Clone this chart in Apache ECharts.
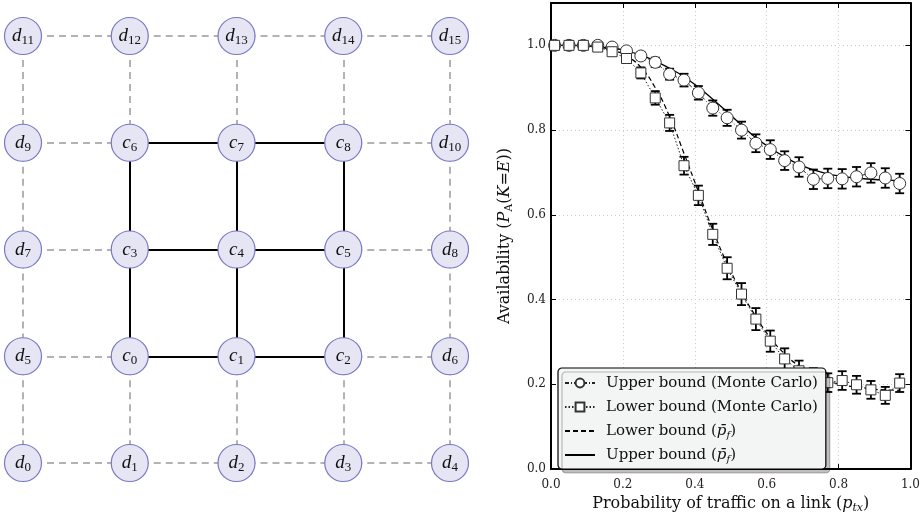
<!DOCTYPE html>
<html>
<head>
<meta charset="utf-8">
<script src="https://cdn.jsdelivr.net/npm/echarts@6/dist/echarts.min.js"></script>
<style>html,body{margin:0;padding:0;background:#fff}#chart{width:923px;height:519px}</style>
</head>
<body>
<div id="chart"></div>
<script>
// grid of nodes, top row first
const nodeRows = [
    ['d11', 'd12', 'd13', 'd14', 'd15'],
    ['d9', 'c6', 'c7', 'c8', 'd10'],
    ['d7', 'c3', 'c4', 'c5', 'd8'],
    ['d5', 'c0', 'c1', 'c2', 'd6'],
    ['d0', 'd1', 'd2', 'd3', 'd4']
];

// availability plot
const ptx = [0.01, 0.05, 0.09, 0.13, 0.17, 0.21, 0.25, 0.29, 0.33, 0.37, 0.41, 0.45, 0.49,
    0.53, 0.57, 0.61, 0.65, 0.69, 0.73, 0.77, 0.81, 0.85, 0.89, 0.93, 0.97];
const upperMC = [1.0, 1.0, 1.0, 1.0, 0.996, 0.987, 0.975, 0.960, 0.932, 0.918, 0.888, 0.852, 0.829,
    0.800, 0.769, 0.754, 0.728, 0.713, 0.684, 0.686, 0.685, 0.690, 0.699, 0.687, 0.674];
const upperErr = [0, 0, 0, 0, 0.003, 0.006, 0.009, 0.011, 0.013, 0.015, 0.016, 0.018, 0.019,
    0.020, 0.021, 0.022, 0.022, 0.023, 0.023, 0.023, 0.023, 0.023, 0.023, 0.023, 0.023];
const lowerMC = [1.0, 1.0, 1.0, 0.996, 0.985, 0.969, 0.935, 0.876, 0.817, 0.716, 0.646, 0.554, 0.474,
    0.413, 0.354, 0.302, 0.260, 0.232, 0.215, 0.204, 0.209, 0.199, 0.187, 0.174, 0.203];
const lowerErr = [0, 0, 0, 0.002, 0.005, 0.009, 0.013, 0.016, 0.019, 0.021, 0.023, 0.025, 0.026,
    0.026, 0.026, 0.025, 0.025, 0.024, 0.023, 0.022, 0.022, 0.021, 0.021, 0.020, 0.021];
const upperPf = [1.0, 1.0, 0.999, 0.997, 0.993, 0.987, 0.977, 0.963, 0.946, 0.926, 0.901, 0.873, 0.843,
    0.812, 0.782, 0.758, 0.737, 0.719, 0.706, 0.697, 0.691, 0.687, 0.684, 0.682, 0.681];
const lowerPf = [1.0, 1.0, 0.999, 0.996, 0.989, 0.975, 0.948, 0.900, 0.832, 0.745, 0.655, 0.565, 0.485,
    0.418, 0.360, 0.310, 0.272, 0.243, 0.222, 0.208, 0.199, 0.193, 0.189, 0.187, 0.186];
const yTicks = [0, 0.2, 0.4, 0.6, 0.8, 1.0];

const SERIF = 'DejaVu Serif';
const NODE_FONT = 'Liberation Serif';

// graph nodes + links from the grid
let nodes = [];
let links = [];
nodeRows.forEach((row, r) => {
    row.forEach((name, c) => {
        nodes.push({ name: name, value: [c, nodeRows.length - 1 - r] });
        let core = name[0] == 'c';
        if (c < row.length - 1) {
            let other = row[c + 1];
            links.push({ source: name, target: other, solid: core && other[0] == 'c' });
        }
        if (r < nodeRows.length - 1) {
            let other = nodeRows[r + 1][c];
            links.push({ source: name, target: other, solid: core && other[0] == 'c' });
        }
    });
});
links = links.map(l => ({
    source: l.source,
    target: l.target,
    lineStyle: l.solid
        ? { color: '#000', width: 2, type: 'solid', opacity: 1 }
        : { color: '#9a9a9a', width: 1.5, type: [7, 5], opacity: 1 }
}));

const errData = (vals, errs) => ptx.map((x, i) => [x, vals[i] - errs[i], vals[i] + errs[i]]);

const errRender = (params, api) => {
    const lo = api.coord([api.value(0), api.value(1)]);
    const hi = api.coord([api.value(0), api.value(2)]);
    if (Math.abs(lo[1] - hi[1]) < 0.5) return null;
    const w = 4.5;
    const st = { stroke: '#000', lineWidth: 1.8 };
    return {
        type: 'group',
        children: [
            { type: 'line', shape: { x1: lo[0], y1: lo[1], x2: hi[0], y2: hi[1] }, style: st },
            { type: 'line', shape: { x1: lo[0] - w, y1: lo[1], x2: lo[0] + w, y2: lo[1] }, style: st },
            { type: 'line', shape: { x1: hi[0] - w, y1: hi[1], x2: hi[0] + w, y2: hi[1] }, style: st }
        ]
    };
};

const legendNames = {
    'Upper bound (Monte Carlo)': 'Upper bound (Monte Carlo)',
    'Lower bound (Monte Carlo)': 'Lower bound (Monte Carlo)',
    'Lower bound (pf)': 'Lower bound ({i|p\u0304}{sub|f})',
    'Upper bound (pf)': 'Upper bound ({i|p\u0304}{sub|f})'
};

const axisFrame = { show: true, onZero: false, lineStyle: { color: '#000', width: 2 } };
const tickIn = { show: true, inside: true, length: 5, lineStyle: { color: '#000', width: 1 } };
const noDot = { color: 'rgba(0,0,0,0)', borderWidth: 0 };

let option = {
    animation: false,
    backgroundColor: '#fff',
    grid: [
        { left: 23, top: 36, width: 427, height: 427 },
        { left: 551, top: 3, right: 10, bottom: 44 }
    ],
    xAxis: [
        { gridIndex: 0, type: 'value', min: 0, max: 4, show: false },
        {
            gridIndex: 1, type: 'value', min: 0, max: 1, interval: 0.2,
            axisLine: axisFrame, axisTick: tickIn,
            splitLine: { show: true, lineStyle: { color: '#cccccc', type: [1, 3], width: 1 } },
            axisLabel: {
                color: '#222', fontFamily: SERIF, fontSize: 12, margin: 10,
                formatter: v => v.toFixed(1)
            },
            name: '{t|Probability of traffic on a link (}{i|p}{sub|tx}{t|)}',
            nameLocation: 'middle', nameGap: 17,
            nameTextStyle: {
                rich: {
                    t: { fontFamily: SERIF, fontSize: 16, color: '#111', lineHeight: 20 },
                    i: { fontFamily: SERIF, fontStyle: 'italic', fontSize: 16, color: '#111', lineHeight: 20 },
                    sub: { fontFamily: SERIF, fontStyle: 'italic', fontSize: 11, color: '#111', lineHeight: 12, verticalAlign: 'bottom' }
                }
            }
        },
        {
            gridIndex: 1, type: 'value', min: 0, max: 1, interval: 0.2, position: 'top',
            axisLine: axisFrame, axisTick: tickIn, axisLabel: { show: false }, splitLine: { show: false }
        }
    ],
    yAxis: [
        { gridIndex: 0, type: 'value', min: 0, max: 4, show: false },
        {
            gridIndex: 1, type: 'value', min: 0, max: 1.1, interval: 0.2,
            axisLine: axisFrame, axisTick: tickIn,
            splitLine: { show: true, lineStyle: { color: '#cccccc', type: [1, 3], width: 1 } },
            axisLabel: {
                color: '#222', fontFamily: SERIF, fontSize: 12, margin: 5,
                formatter: v => yTicks.some(t => Math.abs(t - v) < 1e-6) ? v.toFixed(1) : ''
            },
            name: '{t|Availability (}{i|P}{sub|A}{t|(}{i|K}{t|=}{i|E}{t|))}',
            nameLocation: 'middle', nameGap: 36,
            nameTextStyle: {
                rich: {
                    t: { fontFamily: SERIF, fontSize: 16, color: '#111', lineHeight: 20 },
                    i: { fontFamily: SERIF, fontStyle: 'italic', fontSize: 16, color: '#111', lineHeight: 20 },
                    sub: { fontFamily: SERIF, fontSize: 11, color: '#111', lineHeight: 12, verticalAlign: 'bottom' }
                }
            }
        },
        {
            gridIndex: 1, type: 'value', min: 0, max: 1.1, interval: 0.2, position: 'right',
            axisLine: axisFrame, axisTick: tickIn, axisLabel: { show: false }, splitLine: { show: false }
        }
    ],
    legend: {
        data: [
            'Upper bound (Monte Carlo)',
            'Lower bound (Monte Carlo)',
            { name: 'Lower bound (pf)', itemStyle: noDot },
            { name: 'Upper bound (pf)', itemStyle: noDot }
        ],
        orient: 'vertical',
        left: 558, top: 368,
        width: 262,
        itemWidth: 30, itemHeight: 11, itemGap: 6,
        padding: [6, 8, 5, 6],
        backgroundColor: '#f3f4f4',
        borderColor: '#000', borderWidth: 1.2, borderRadius: 4,
        shadowColor: 'rgba(0,0,0,0.25)', shadowOffsetX: 4, shadowOffsetY: 4, shadowBlur: 0,
        formatter: n => legendNames[n],
        textStyle: {
            fontFamily: SERIF, fontSize: 15, color: '#111', padding: [0, 0, 0, 6], lineHeight: 18,
            rich: {
                i: { fontFamily: SERIF, fontStyle: 'italic', fontSize: 15, color: '#111', lineHeight: 18 },
                sub: { fontFamily: SERIF, fontStyle: 'italic', fontSize: 10, color: '#111', lineHeight: 11, verticalAlign: 'bottom' }
            }
        }
    },
    series: [
        {
            type: 'graph',
            coordinateSystem: 'cartesian2d',
            xAxisIndex: 0, yAxisIndex: 0,
            symbol: 'circle',
            symbolSize: 37,
            itemStyle: { color: '#e5e5f3', borderColor: '#7878c6', borderWidth: 1.2 },
            label: {
                show: true, position: 'inside',
                formatter: p => '{i|' + p.name[0] + '}{s|' + p.name.slice(1) + '}',
                rich: {
                    i: { fontFamily: NODE_FONT, fontStyle: 'italic', fontSize: 19, color: '#111', lineHeight: 22 },
                    s: { fontFamily: NODE_FONT, fontSize: 13, color: '#111', lineHeight: 14, verticalAlign: 'bottom' }
                }
            },
            emphasis: { disabled: true },
            data: nodes,
            links: links,
            z: 2
        },
        {
            name: 'Upper bound (pf)', type: 'line', xAxisIndex: 1, yAxisIndex: 1,
            data: ptx.map((x, i) => [x, upperPf[i]]), smooth: true, showSymbol: false, symbol: 'none',
            lineStyle: { color: '#000', width: 1.3 }, itemStyle: { color: '#000' }, z: 1
        },
        {
            name: 'Lower bound (pf)', type: 'line', xAxisIndex: 1, yAxisIndex: 1,
            data: ptx.map((x, i) => [x, lowerPf[i]]), smooth: true, showSymbol: false, symbol: 'none',
            lineStyle: { color: '#000', width: 1.2, type: [5, 3] }, itemStyle: { color: '#000' }, z: 1
        },
        {
            type: 'custom', xAxisIndex: 1, yAxisIndex: 1,
            data: errData(upperMC, upperErr), renderItem: errRender,
            encode: { x: 0, y: [1, 2] }, z: 2, silent: true
        },
        {
            type: 'custom', xAxisIndex: 1, yAxisIndex: 1,
            data: errData(lowerMC, lowerErr), renderItem: errRender,
            encode: { x: 0, y: [1, 2] }, z: 2, silent: true
        },
        {
            name: 'Upper bound (Monte Carlo)', type: 'line', xAxisIndex: 1, yAxisIndex: 1,
            data: ptx.map((x, i) => [x, upperMC[i]]),
            symbol: 'circle', symbolSize: 12, showAllSymbol: true,
            lineStyle: { color: '#222', width: 1, type: [4, 2, 1, 2] },
            itemStyle: { color: '#fff', borderColor: '#333', borderWidth: 1 }, z: 3
        },
        {
            name: 'Lower bound (Monte Carlo)', type: 'line', xAxisIndex: 1, yAxisIndex: 1,
            data: ptx.map((x, i) => [x, lowerMC[i]]),
            symbol: 'rect', symbolSize: 10, showAllSymbol: true,
            lineStyle: { color: '#222', width: 1, type: [1.5, 2] },
            itemStyle: { color: '#fff', borderColor: '#333', borderWidth: 1 }, z: 3
        }
    ]
};

let myChart = echarts.init(document.getElementById('chart'), null, { renderer: 'canvas' });
myChart.setOption(option);
</script>
</body>
</html>
